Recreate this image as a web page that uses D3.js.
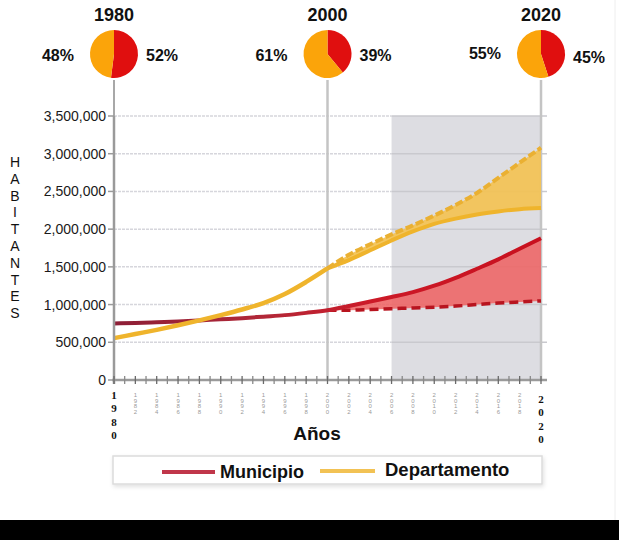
<!DOCTYPE html>
<html><head><meta charset="utf-8">
<script src="https://cdn.jsdelivr.net/npm/d3@7"></script>
<style>body{margin:0;background:#fff}svg{display:block;font-family:Arial,"Liberation Sans",sans-serif}</style>
</head><body><svg id="c" width="619" height="540"></svg>
<script>
const years = [1980,1982,1984,1986,1988,1990,1992,1994,1996,1998,2000,2002,2004,2006,2008,2010,2012,2014,2016,2018,2020];
const municipio = [750000,755000,765000,775000,790000,805000,820000,840000,860000,890000,925000,980000,1040000,1100000,1165000,1250000,1355000,1475000,1600000,1740000,1880000];
const projYears = [2000,2002,2004,2006,2008,2010,2012,2014,2016,2018,2020];
const municipioBajo = [925000,925000,935000,945000,955000,965000,980000,1000000,1020000,1035000,1048000];
const departamento = [555000,610000,665000,725000,790000,860000,935000,1020000,1140000,1300000,1480000,1660000,1800000,1930000,2050000,2180000,2320000,2480000,2680000,2880000,3080000];
const departamentoBajo = [1480000,1590000,1720000,1850000,1970000,2070000,2140000,2195000,2235000,2265000,2280000];
const yTicks = [0,500000,1000000,1500000,2000000,2500000,3000000,3500000];
const pieYears = [1980,2000,2020];
const pieMunicipio = [52,39,45];
const pieDepartamento = [48,61,55];
const projStart = 2006;

const svg = d3.select("#c");
const x = d3.scaleLinear().domain([1980,2020]).range([114,541]);
const y = d3.scaleLinear().domain([0,3500000]).range([380,116]);
const fmt = d3.format(",");

// outer faint border
svg.append("line").attr("x1",615).attr("x2",615).attr("y1",0).attr("y2",520).attr("stroke","#eee").attr("stroke-width",1);

// projection shading
svg.append("rect").attr("x",x(projStart)).attr("y",y(3500000)).attr("width",x(2020)-x(projStart)).attr("height",y(0)-y(3500000)).attr("fill","#dddde2");

// gridlines
yTicks.filter(d=>d>0).forEach(t=>{
  svg.append("line").attr("x1",x(1980)).attr("x2",x(projStart)).attr("y1",y(t)).attr("y2",y(t))
    .attr("stroke","#d6d6dc").attr("stroke-width",1.5).attr("stroke-dasharray","3,1");
  svg.append("line").attr("x1",x(projStart)).attr("x2",x(2020)+6).attr("y1",y(t)).attr("y2",y(t))
    .attr("stroke","#c9c9ce").attr("stroke-width",1.5);
});

// vertical lines under pies
pieYears.forEach(py=>{
  svg.append("line").attr("x1",x(py)).attr("x2",x(py)).attr("y1",80).attr("y2",y(0))
    .attr("stroke",py===1980?"#a8a8a8":"#c4c4c4").attr("stroke-width",py===1980?2:2.5);
});

// gradient for municipio line
const defs = svg.append("defs");
const g = defs.append("linearGradient").attr("id","mg").attr("gradientUnits","userSpaceOnUse")
  .attr("x1",x(1980)).attr("x2",x(2020)).attr("y1",0).attr("y2",0);
g.append("stop").attr("offset","0").attr("stop-color","#8c1e36");
g.append("stop").attr("offset","0.35").attr("stop-color","#b22838");
g.append("stop").attr("offset","0.6").attr("stop-color","#cc1a28");
g.append("stop").attr("offset","1").attr("stop-color","#c8101e");
const sh = defs.append("filter").attr("id","sh").attr("x","-5%").attr("y","-20%").attr("width","110%").attr("height","160%");
sh.append("feDropShadow").attr("dx",1).attr("dy",2).attr("stdDeviation",2).attr("flood-color","#000").attr("flood-opacity",0.12);

const curve = d3.curveMonotoneX;
const hiIndex = i => years.indexOf(projYears[i]);

// departamento area
const depProj = projYears.map((yr,i)=>({yr, lo:departamentoBajo[i], hi:departamento[hiIndex(i)]}));
svg.append("path").datum(depProj)
  .attr("d", d3.area().x(d=>x(d.yr)).y0(d=>y(d.lo)).y1(d=>y(d.hi)).curve(curve))
  .attr("fill","#f3c254").attr("opacity",0.92);
// municipio area
const munProj = projYears.map((yr,i)=>({yr, lo:municipioBajo[i], hi:municipio[hiIndex(i)]}));
svg.append("path").datum(munProj)
  .attr("d", d3.area().x(d=>x(d.yr)).y0(d=>y(d.lo)).y1(d=>y(d.hi)).curve(curve))
  .attr("fill","#ee6464").attr("opacity",0.88);

const line = d3.line().x(d=>x(d[0])).y(d=>y(d[1])).curve(curve);

// municipio lines
svg.append("path").datum(projYears.map((yr,i)=>[yr,municipioBajo[i]]))
  .attr("d",line).attr("fill","none").attr("stroke","#b8141f").attr("stroke-width",3.5).attr("stroke-dasharray","9,5");
svg.append("path").datum(years.map((yr,i)=>[yr,municipio[i]]))
  .attr("d",line).attr("fill","none").attr("stroke","url(#mg)").attr("stroke-width",4);

// departamento lines
svg.append("path").datum(projYears.map((yr,i)=>[yr,departamentoBajo[i]]))
  .attr("d",line).attr("fill","none").attr("stroke","#efb42c").attr("stroke-width",4);
svg.append("path").datum(years.filter(yr=>yr<=2000).map(yr=>[yr,departamento[years.indexOf(yr)]]))
  .attr("d",line).attr("fill","none").attr("stroke","#efb42c").attr("stroke-width",4.5);
svg.append("path").datum(projYears.map(yr=>[yr,departamento[years.indexOf(yr)]]))
  .attr("d",line).attr("fill","none").attr("stroke","#eab032").attr("stroke-width",4).attr("stroke-dasharray","8,3");

// y axis
svg.append("line").attr("x1",x(1980)).attr("x2",x(1980)).attr("y1",y(3500000)).attr("y2",y(0)+4)
  .attr("stroke","#9a9a9a").attr("stroke-width",2.5);
yTicks.forEach(t=>{
  svg.append("line").attr("x1",x(1980)-6).attr("x2",x(1980)).attr("y1",y(t)).attr("y2",y(t)).attr("stroke","#9a9a9a").attr("stroke-width",1.5);
  svg.append("text").attr("x",106).attr("y",y(t)+5).attr("text-anchor","end")
    .attr("font-size",14).attr("fill","#1a1a1a").text(fmt(t));
});

// x axis
svg.append("line").attr("x1",x(1980)-2).attr("x2",x(2020)+6).attr("y1",y(0)).attr("y2",y(0))
  .attr("stroke","#9a9a9a").attr("stroke-width",2.5);
d3.range(1980,2021).forEach(yr=>{
  svg.append("line").attr("x1",x(yr)).attr("x2",x(yr)).attr("y1",y(0)-4).attr("y2",y(0)+4)
    .attr("stroke",yr%2===0?"#6a6a6a":"#8a8a8a").attr("stroke-width",1.3);
});
years.forEach(yr=>{
  const chars = String(yr).split("");
  if (yr===1980 || yr===2020) {
    const y0 = yr===1980 ? 399 : 403;
    chars.forEach((c,i)=>svg.append("text").attr("x",x(yr)).attr("y",y0+i*13.3).attr("text-anchor","middle")
      .attr("font-family","'Liberation Serif',serif").attr("font-weight","bold").attr("font-size",11).attr("fill","#111").text(c));
  } else {
    chars.forEach((c,i)=>svg.append("text").attr("x",x(yr)).attr("y",397+i*5.5).attr("text-anchor","middle")
      .attr("font-size",6).attr("fill","#9a9a9a").text(c));
  }
});

// axis titles
svg.append("text").attr("x",317).attr("y",440).attr("text-anchor","middle").attr("font-size",19).attr("font-weight","bold").attr("fill","#111").text("Años");
"HABITANTES".split("").forEach((c,i)=>svg.append("text").attr("x",15).attr("y",167+i*16.8).attr("text-anchor","middle")
  .attr("font-size",14).attr("fill","#111").text(c));

// pies
const arc = d3.arc().innerRadius(0).outerRadius(24);
const pie = d3.pie().sort(null).value(d=>d.v);
pieYears.forEach((py,i)=>{
  const cx = x(py), cy = 54;
  const gp = svg.append("g").attr("transform",`translate(${cx},${cy})`);
  gp.selectAll("path").data(pie([{k:"m",v:pieMunicipio[i]},{k:"d",v:pieDepartamento[i]}])).join("path")
    .attr("d",arc).attr("fill",d=>d.data.k==="m"?"#e00f0f":"#fba40a");
  svg.append("text").attr("x",cx).attr("y",21).attr("text-anchor","middle").attr("font-size",18).attr("font-weight","bold").attr("fill","#111").text(py);
  svg.append("text").attr("x",cx-40).attr("y",py===2020?59:61).attr("text-anchor","end").attr("font-size",16).attr("font-weight","bold").attr("fill","#111").text(pieDepartamento[i]+"%");
  svg.append("text").attr("x",cx+32).attr("y",py===2020?63:61).attr("text-anchor","start").attr("font-size",16).attr("font-weight","bold").attr("fill","#111").text(pieMunicipio[i]+"%");
});

// legend
svg.append("rect").attr("x",113).attr("y",456).attr("width",429).attr("height",28).attr("fill","#fff")
  .attr("stroke","#dcdcdc").attr("stroke-width",1.5).attr("filter","url(#sh)");
svg.append("line").attr("x1",162).attr("x2",215).attr("y1",472).attr("y2",472).attr("stroke","#c0364a").attr("stroke-width",4);
svg.append("text").attr("x",220).attr("y",478).attr("font-size",18).attr("font-weight","bold").attr("fill","#111").text("Municipio");
svg.append("line").attr("x1",320).attr("x2",375).attr("y1",471).attr("y2",471).attr("stroke","#f2c254").attr("stroke-width",4);
svg.append("text").attr("x",385).attr("y",476).attr("font-size",18.5).attr("font-weight","bold").attr("fill","#111").text("Departamento");

// bottom black bar
svg.append("rect").attr("x",0).attr("y",520).attr("width",619).attr("height",20).attr("fill","#000");
</script>
</body></html>
